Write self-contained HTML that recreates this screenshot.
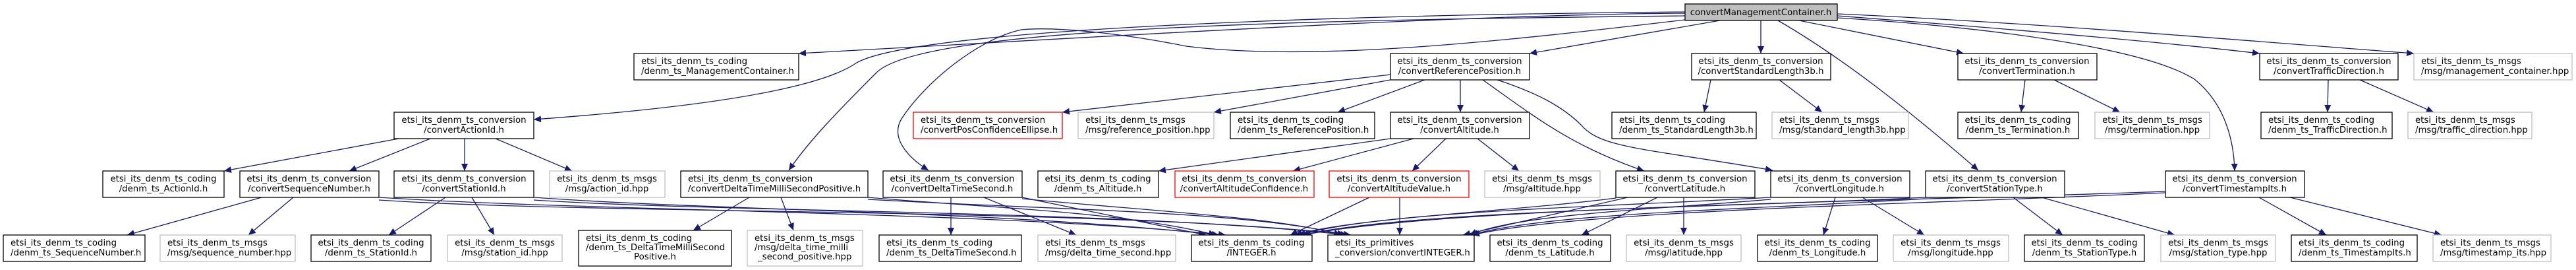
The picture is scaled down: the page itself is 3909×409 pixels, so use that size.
<!DOCTYPE html>
<html><head><meta charset="utf-8"><style>
html,body{margin:0;padding:0;background:#fff;}
svg{display:block;}
text{font-family:"DejaVu Sans","Liberation Sans",sans-serif;font-size:13.3px;fill:#000;}
.n{fill:#fff;stroke:#000;stroke-width:1.3;}
.g{fill:#fff;stroke:#bfbfbf;stroke-width:1.3;}
.r{fill:#fff;stroke:#ff0000;stroke-width:1.3;}
.e{fill:none;stroke:#191970;stroke-width:1.3;}
</style></head><body>
<svg width="3909" height="409" viewBox="0 0 3909 409" xmlns="http://www.w3.org/2000/svg">
<defs><marker id="a" markerUnits="userSpaceOnUse" markerWidth="12" markerHeight="10" refX="11" refY="5" orient="auto"><path d="M0,0 L11,5 L0,10 Z" fill="#191970"/></marker></defs>
<g class="edges">
<!-- root edges -->
<path class="e" marker-end="url(#a)" d="M2557,20 C2200,22 1600,60 1212,81"/>
<path class="e" marker-end="url(#a)" d="M2557,18 C2100,22 1400,40 1300,95 C1250,130 1100,160 810,181"/>
<path class="e" marker-end="url(#a)" d="M2557,24 C2000,30 1400,40 1330,110 C1280,160 1230,210 1197,258"/>
<path class="e" marker-end="url(#a)" d="M2557,30 C2300,60 2000,95 1800,70 C1700,50 1600,40 1550,45 C1480,60 1400,130 1368,180 C1350,210 1380,240 1409,258"/>
<path class="e" marker-end="url(#a)" d="M2610,31 L2321,81"/>
<path class="e" marker-end="url(#a)" d="M2672,31 L2672,81"/>
<path class="e" marker-end="url(#a)" d="M2698,31 C2800,90 2900,170 3002,258"/>
<path class="e" marker-end="url(#a)" d="M2730,31 L2980,81"/>
<path class="e" marker-end="url(#a)" d="M2788,24 C3000,40 3250,60 3429,81"/>
<path class="e" marker-end="url(#a)" d="M2788,21 C3100,35 3450,65 3663,81"/>
<path class="e" marker-end="url(#a)" d="M2788,27 C3000,40 3250,70 3330,120 C3380,160 3390,220 3391,259"/>
<!-- ReferencePosition -->
<path class="e" marker-end="url(#a)" d="M2110,113 L1612,170"/>
<path class="e" marker-end="url(#a)" d="M2110,121 L1842,170"/>
<path class="e" marker-end="url(#a)" d="M2162,121 L2030,170"/>
<path class="e" marker-end="url(#a)" d="M2216,121 L2216,170"/>
<path class="e" marker-end="url(#a)" d="M2250,121 C2320,170 2380,220 2495,259"/>
<path class="e" marker-end="url(#a)" d="M2272,121 C2330,140 2370,160 2400,190 C2430,225 2500,225 2690,258"/>
<!-- Altitude -->
<path class="e" marker-end="url(#a)" d="M2110,210 L1758,259"/>
<path class="e" marker-end="url(#a)" d="M2145,210 L1962,259"/>
<path class="e" marker-end="url(#a)" d="M2194,210 L2143,259"/>
<path class="e" marker-end="url(#a)" d="M2242,210 L2305,259"/>
<!-- StandardLength3b, Termination, TrafficDirection -->
<path class="e" marker-end="url(#a)" d="M2596,121 L2586,170"/>
<path class="e" marker-end="url(#a)" d="M2700,121 L2765,170"/>
<path class="e" marker-end="url(#a)" d="M3073,121 L3067,170"/>
<path class="e" marker-end="url(#a)" d="M3117,121 L3217,170"/>
<path class="e" marker-end="url(#a)" d="M3533,121 L3532,170"/>
<path class="e" marker-end="url(#a)" d="M3581,121 L3693,170"/>
<!-- ActionId -->
<path class="e" marker-end="url(#a)" d="M605,210 L340,259"/>
<path class="e" marker-end="url(#a)" d="M653,210 L530,259"/>
<path class="e" marker-end="url(#a)" d="M705,210 L705,259"/>
<path class="e" marker-end="url(#a)" d="M752,210 L868,259"/>
<!-- SequenceNumber -->
<path class="e" marker-end="url(#a)" d="M397,299 L193,356"/>
<path class="e" marker-end="url(#a)" d="M445,299 L377,356"/>
<path class="e" marker-end="url(#a)" d="M575,299 C900,320 1500,320 1860,356"/>
<path class="e" marker-end="url(#a)" d="M575,303 C900,325 1700,315 2050,356"/>
<!-- StationId -->
<path class="e" marker-end="url(#a)" d="M676,299 L590,356"/>
<path class="e" marker-end="url(#a)" d="M716,299 L750,356"/>
<path class="e" marker-end="url(#a)" d="M810,299 C1100,320 1500,318 1850,356"/>
<path class="e" marker-end="url(#a)" d="M810,303 C1100,322 1700,318 2045,356"/>
<!-- DTMSP -->
<path class="e" marker-end="url(#a)" d="M1137,299 L1052,349"/>
<path class="e" marker-end="url(#a)" d="M1185,299 L1204,349"/>
<path class="e" marker-end="url(#a)" d="M1317,299 C1500,315 1700,320 1845,356"/>
<path class="e" marker-end="url(#a)" d="M1317,302 C1600,318 1900,320 2040,356"/>
<!-- DeltaTimeSecond -->
<path class="e" marker-end="url(#a)" d="M1443,299 L1443,356"/>
<path class="e" marker-end="url(#a)" d="M1493,299 L1633,356"/>
<path class="e" marker-end="url(#a)" d="M1551,299 C1650,320 1750,340 1830,356"/>
<path class="e" marker-end="url(#a)" d="M1551,301 C1750,320 1950,330 2035,356"/>
<!-- AltitudeValue -->
<path class="e" marker-end="url(#a)" d="M2078,299 L1958,356"/>
<path class="e" marker-end="url(#a)" d="M2124,299 L2124,356"/>
<!-- Latitude -->
<path class="e" marker-end="url(#a)" d="M2452,300 C2300,320 2050,330 1965,356"/>
<path class="e" marker-end="url(#a)" d="M2470,299 L2220,356"/>
<path class="e" marker-end="url(#a)" d="M2515,299 L2400,356"/>
<path class="e" marker-end="url(#a)" d="M2555,299 L2555,356"/>
<!-- Longitude -->
<path class="e" marker-end="url(#a)" d="M2785,299 L2767,356"/>
<path class="e" marker-end="url(#a)" d="M2826,299 L2920,356"/>
<path class="e" marker-end="url(#a)" d="M2687,299 C2400,315 2100,320 1970,356"/>
<path class="e" marker-end="url(#a)" d="M2687,302 C2500,318 2300,325 2230,356"/>
<!-- StationType -->
<path class="e" marker-end="url(#a)" d="M3055,299 L3130,356"/>
<path class="e" marker-end="url(#a)" d="M3098,299 L3300,356"/>
<path class="e" marker-end="url(#a)" d="M2922,299 C2600,315 2150,318 1975,356"/>
<path class="e" marker-end="url(#a)" d="M2922,301 C2650,318 2350,322 2232,356"/>
<!-- TimestampIts -->
<path class="e" marker-end="url(#a)" d="M3286,290 C2900,305 2200,312 1978,356"/>
<path class="e" marker-end="url(#a)" d="M3286,292 C2900,310 2400,318 2234,356"/>
<path class="e" marker-end="url(#a)" d="M3428,299 L3530,356"/>
<path class="e" marker-end="url(#a)" d="M3475,299 L3705,356"/>
</g>
<g class="nodes">
<!-- root -->
<rect x="2557" y="6" width="231" height="25" fill="#bfbfbf" stroke="#000" stroke-width="1.3"/>
<text x="2672" y="23" text-anchor="middle">convertManagementContainer.h</text>

<!-- Row 2 -->
<rect class="n" x="962" y="81" width="250" height="40"/>
<text x="973" y="97">etsi_its_denm_ts_coding</text><text x="973" y="112">/denm_ts_ManagementContainer.h</text>
<rect class="n" x="2110" y="81" width="211" height="40"/>
<text x="2215" y="97" text-anchor="middle">etsi_its_denm_ts_conversion</text><text x="2215" y="112" text-anchor="middle">/convertReferencePosition.h</text>
<rect class="n" x="2567" y="81" width="211" height="40"/>
<text x="2672" y="97" text-anchor="middle">etsi_its_denm_ts_conversion</text><text x="2672" y="112" text-anchor="middle">/convertStandardLength3b.h</text>
<rect class="n" x="2971" y="81" width="211" height="40"/>
<text x="3076" y="97" text-anchor="middle">etsi_its_denm_ts_conversion</text><text x="3076" y="112" text-anchor="middle">/convertTermination.h</text>
<rect class="n" x="3429" y="81" width="210" height="40"/>
<text x="3534" y="97" text-anchor="middle">etsi_its_denm_ts_conversion</text><text x="3534" y="112" text-anchor="middle">/convertTrafficDirection.h</text>
<rect class="g" x="3663" y="81" width="240" height="40"/>
<text x="3674" y="97">etsi_its_denm_ts_msgs</text><text x="3674" y="112">/msg/management_container.hpp</text>

<!-- Row 3 -->
<rect class="n" x="598" y="170" width="212" height="40"/>
<text x="704" y="186" text-anchor="middle">etsi_its_denm_ts_conversion</text><text x="704" y="201" text-anchor="middle">/convertActionId.h</text>
<rect class="r" x="1386" y="170" width="226" height="40"/>
<text x="1397" y="186">etsi_its_denm_ts_conversion</text><text x="1397" y="201">/convertPosConfidenceEllipse.h</text>
<rect class="g" x="1636" y="170" width="206" height="40"/>
<text x="1647" y="186">etsi_its_denm_ts_msgs</text><text x="1647" y="201">/msg/reference_position.hpp</text>
<rect class="n" x="1867" y="170" width="219" height="40"/>
<text x="1878" y="186">etsi_its_denm_ts_coding</text><text x="1878" y="201">/denm_ts_ReferencePosition.h</text>
<rect class="n" x="2110" y="170" width="211" height="40"/>
<text x="2215" y="186" text-anchor="middle">etsi_its_denm_ts_conversion</text><text x="2215" y="201" text-anchor="middle">/convertAltitude.h</text>
<rect class="n" x="2446" y="170" width="219" height="40"/>
<text x="2457" y="186">etsi_its_denm_ts_coding</text><text x="2457" y="201">/denm_ts_StandardLength3b.h</text>
<rect class="g" x="2689" y="170" width="207" height="40"/>
<text x="2700" y="186">etsi_its_denm_ts_msgs</text><text x="2700" y="201">/msg/standard_length3b.hpp</text>
<rect class="n" x="2971" y="170" width="183" height="40"/>
<text x="3062" y="186" text-anchor="middle">etsi_its_denm_ts_coding</text><text x="3062" y="201" text-anchor="middle">/denm_ts_Termination.h</text>
<rect class="g" x="3179" y="170" width="174" height="40"/>
<text x="3266" y="186" text-anchor="middle">etsi_its_denm_ts_msgs</text><text x="3266" y="201" text-anchor="middle">/msg/termination.hpp</text>
<rect class="n" x="3431" y="170" width="199" height="40"/>
<text x="3442" y="186">etsi_its_denm_ts_coding</text><text x="3442" y="201">/denm_ts_TrafficDirection.h</text>
<rect class="g" x="3654" y="170" width="188" height="40"/>
<text x="3665" y="186">etsi_its_denm_ts_msgs</text><text x="3665" y="201">/msg/traffic_direction.hpp</text>

<!-- Row 4 -->
<rect class="n" x="156" y="259" width="184" height="40"/>
<text x="248" y="275" text-anchor="middle">etsi_its_denm_ts_coding</text><text x="248" y="290" text-anchor="middle">/denm_ts_ActionId.h</text>
<rect class="n" x="364" y="259" width="211" height="40"/>
<text x="469" y="275" text-anchor="middle">etsi_its_denm_ts_conversion</text><text x="469" y="290" text-anchor="middle">/convertSequenceNumber.h</text>
<rect class="n" x="598" y="259" width="212" height="40"/>
<text x="704" y="275" text-anchor="middle">etsi_its_denm_ts_conversion</text><text x="704" y="290" text-anchor="middle">/convertStationId.h</text>
<rect class="g" x="834" y="259" width="175" height="40"/>
<text x="921" y="275" text-anchor="middle">etsi_its_denm_ts_msgs</text><text x="921" y="290" text-anchor="middle">/msg/action_id.hpp</text>
<rect class="n" x="1033" y="259" width="284" height="40"/>
<text x="1044" y="275">etsi_its_denm_ts_conversion</text><text x="1044" y="290">/convertDeltaTimeMilliSecondPositive.h</text>
<rect class="n" x="1340" y="259" width="211" height="40"/>
<text x="1445" y="275" text-anchor="middle">etsi_its_denm_ts_conversion</text><text x="1445" y="290" text-anchor="middle">/convertDeltaTimeSecond.h</text>
<rect class="n" x="1575" y="259" width="183" height="40"/>
<text x="1666" y="275" text-anchor="middle">etsi_its_denm_ts_coding</text><text x="1666" y="290" text-anchor="middle">/denm_ts_Altitude.h</text>
<rect class="r" x="1783" y="259" width="211" height="40"/>
<text x="1888" y="275" text-anchor="middle">etsi_its_denm_ts_conversion</text><text x="1888" y="290" text-anchor="middle">/convertAltitudeConfidence.h</text>
<rect class="r" x="2017" y="259" width="212" height="40"/>
<text x="2123" y="275" text-anchor="middle">etsi_its_denm_ts_conversion</text><text x="2123" y="290" text-anchor="middle">/convertAltitudeValue.h</text>
<rect class="g" x="2253" y="259" width="175" height="40"/>
<text x="2340" y="275" text-anchor="middle">etsi_its_denm_ts_msgs</text><text x="2340" y="290" text-anchor="middle">/msg/altitude.hpp</text>
<rect class="n" x="2452" y="259" width="211" height="40"/>
<text x="2557" y="275" text-anchor="middle">etsi_its_denm_ts_conversion</text><text x="2557" y="290" text-anchor="middle">/convertLatitude.h</text>
<rect class="n" x="2687" y="259" width="211" height="40"/>
<text x="2792" y="275" text-anchor="middle">etsi_its_denm_ts_conversion</text><text x="2792" y="290" text-anchor="middle">/convertLongitude.h</text>
<rect class="n" x="2922" y="259" width="211" height="40"/>
<text x="3027" y="275" text-anchor="middle">etsi_its_denm_ts_conversion</text><text x="3027" y="290" text-anchor="middle">/convertStationType.h</text>
<rect class="n" x="3286" y="259" width="211" height="40"/>
<text x="3391" y="275" text-anchor="middle">etsi_its_denm_ts_conversion</text><text x="3391" y="290" text-anchor="middle">/convertTimestampIts.h</text>

<!-- Row 5 -->
<rect class="n" x="5" y="356" width="215" height="40"/>
<text x="16" y="372">etsi_its_denm_ts_coding</text><text x="16" y="387">/denm_ts_SequenceNumber.h</text>
<rect class="g" x="243" y="356" width="205" height="40"/>
<text x="254" y="372">etsi_its_denm_ts_msgs</text><text x="254" y="387">/msg/sequence_number.hpp</text>
<rect class="n" x="472" y="356" width="182" height="40"/>
<text x="563" y="372" text-anchor="middle">etsi_its_denm_ts_coding</text><text x="563" y="387" text-anchor="middle">/denm_ts_StationId.h</text>
<rect class="g" x="679" y="356" width="174" height="40"/>
<text x="766" y="372" text-anchor="middle">etsi_its_denm_ts_msgs</text><text x="766" y="387" text-anchor="middle">/msg/station_id.hpp</text>
<rect class="n" x="878" y="349" width="232" height="54"/>
<text x="889" y="365">etsi_its_denm_ts_coding</text><text x="889" y="379">/denm_ts_DeltaTimeMilliSecond</text><text x="994" y="393" text-anchor="middle">Positive.h</text>
<rect class="g" x="1134" y="349" width="175" height="54"/>
<text x="1145" y="365">etsi_its_denm_ts_msgs</text><text x="1145" y="379">/msg/delta_time_milli</text><text x="1150" y="393">_second_positive.hpp</text>
<rect class="n" x="1334" y="356" width="216" height="40"/>
<text x="1345" y="372">etsi_its_denm_ts_coding</text><text x="1345" y="387">/denm_ts_DeltaTimeSecond.h</text>
<rect class="g" x="1575" y="356" width="209" height="40"/>
<text x="1586" y="372">etsi_its_denm_ts_msgs</text><text x="1586" y="387">/msg/delta_time_second.hpp</text>
<rect class="n" x="1808" y="356" width="183" height="40"/>
<text x="1899" y="372" text-anchor="middle">etsi_its_denm_ts_coding</text><text x="1899" y="387" text-anchor="middle">/INTEGER.h</text>
<rect class="n" x="2015" y="356" width="222" height="40"/>
<text x="2026" y="372">etsi_its_primitives</text><text x="2026" y="387">_conversion/convertINTEGER.h</text>
<rect class="n" x="2261" y="356" width="183" height="40"/>
<text x="2352" y="372" text-anchor="middle">etsi_its_denm_ts_coding</text><text x="2352" y="387" text-anchor="middle">/denm_ts_Latitude.h</text>
<rect class="g" x="2468" y="356" width="174" height="40"/>
<text x="2555" y="372" text-anchor="middle">etsi_its_denm_ts_msgs</text><text x="2555" y="387" text-anchor="middle">/msg/latitude.hpp</text>
<rect class="n" x="2667" y="356" width="182" height="40"/>
<text x="2758" y="372" text-anchor="middle">etsi_its_denm_ts_coding</text><text x="2758" y="387" text-anchor="middle">/denm_ts_Longitude.h</text>
<rect class="g" x="2873" y="356" width="175" height="40"/>
<text x="2960" y="372" text-anchor="middle">etsi_its_denm_ts_msgs</text><text x="2960" y="387" text-anchor="middle">/msg/longitude.hpp</text>
<rect class="n" x="3072" y="356" width="182" height="40"/>
<text x="3163" y="372" text-anchor="middle">etsi_its_denm_ts_coding</text><text x="3163" y="387" text-anchor="middle">/denm_ts_StationType.h</text>
<rect class="g" x="3279" y="356" width="174" height="40"/>
<text x="3366" y="372" text-anchor="middle">etsi_its_denm_ts_msgs</text><text x="3366" y="387" text-anchor="middle">/msg/station_type.hpp</text>
<rect class="n" x="3477" y="356" width="191" height="40"/>
<text x="3488" y="372">etsi_its_denm_ts_coding</text><text x="3488" y="387">/denm_ts_TimestampIts.h</text>
<rect class="g" x="3692" y="356" width="179" height="40"/>
<text x="3703" y="372">etsi_its_denm_ts_msgs</text><text x="3703" y="387">/msg/timestamp_its.hpp</text>
</g>
</svg>
</body></html>
